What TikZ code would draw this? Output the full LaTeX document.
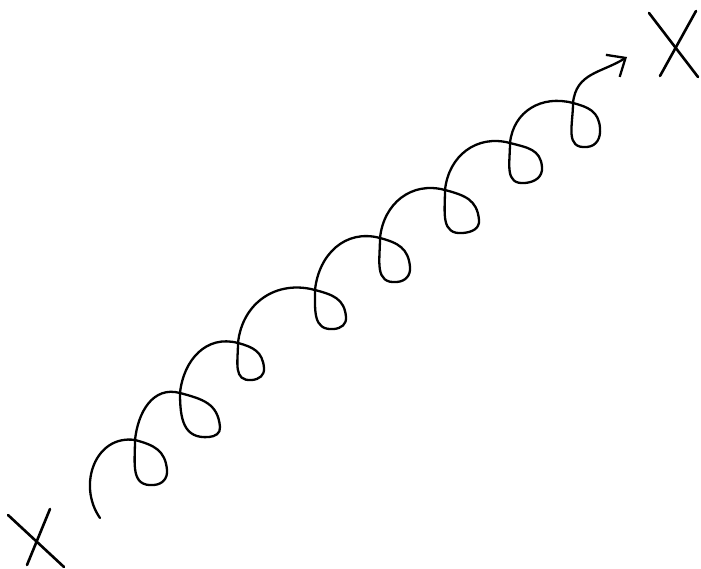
\documentclass[tikz,border=0pt]{standalone}
\usetikzlibrary{arrows.meta}
\begin{document}
\begin{tikzpicture}[x=1pt,y=1pt,
  coil/.style={line width=2.3pt, line cap=round, line join=round},
  cross/.style={line width=2.6pt, line cap=round},
  arc/.style={out=84,in=165,looseness=1.1},
  loopin/.style={out=-15,in=95,looseness=1.15},
  loopbot/.style={out=-85,in=5,looseness=1.1},
  loopup/.style={out=185,in=-90,looseness=1.25}]
\useasboundingbox (0,0) rectangle (701,569);
% crossings
\coordinate (c1) at (135,129);
\coordinate (c2) at (180,176);
\coordinate (c3) at (238,226);
\coordinate (c4) at (315,279);
\coordinate (c5) at (380,331);
\coordinate (c6) at (445,379);
\coordinate (c7) at (510,426);
\coordinate (c8) at (573,466);
% loop right and bottom points
\coordinate (r1) at (167,99);  \coordinate (b1) at (154,84);
\coordinate (r2) at (220,142); \coordinate (b2) at (209,132);
\coordinate (r3) at (264,201); \coordinate (b3) at (252,189);
\coordinate (r4) at (346,252); \coordinate (b4) at (334,240);
\coordinate (r5) at (410,302); \coordinate (b5) at (397,287);
\coordinate (r6) at (479,349); \coordinate (b6) at (463,336);
\coordinate (r7) at (542,402); \coordinate (b7) at (525,386);
\coordinate (r8) at (600,441); \coordinate (b8) at (587,422);
\coordinate (s) at (100,51);
\coordinate (t) at (627,512);
\draw[coil, -{Straight Barb[length=15pt,width=26pt,line width=2.3pt]}]
  (s) to[out=125,in=172,looseness=1.2] (c1)
  to[loopin] (r1) to[loopbot] (b1) to[loopup] (c1)
  to[arc] (c2)
  to[loopin] (r2) to[loopbot] (b2) to[loopup] (c2)
  to[arc] (c3)
  to[loopin] (r3) to[loopbot] (b3) to[loopup] (c3)
  to[arc] (c4)
  to[loopin] (r4) to[loopbot] (b4) to[loopup] (c4)
  to[arc] (c5)
  to[loopin] (r5) to[loopbot] (b5) to[loopup] (c5)
  to[arc] (c6)
  to[loopin] (r6) to[loopbot] (b6) to[loopup] (c6)
  to[arc] (c7)
  to[loopin] (r7) to[loopbot] (b7) to[loopup] (c7)
  to[arc] (c8)
  to[loopin] (r8) to[loopbot] (b8) to[loopup] (c8)
  to[out=84,in=212,looseness=1.1] (t);
% X marks
\coordinate (xa1) at (8,54);   \coordinate (xa2) at (64,2);
\coordinate (xa3) at (50,60);  \coordinate (xa4) at (27,4);
\coordinate (xb1) at (649,556); \coordinate (xb2) at (698,492);
\coordinate (xb3) at (696,558); \coordinate (xb4) at (660,493);
\draw[cross] (xa1) -- (xa2);
\draw[cross] (xa3) -- (xa4);
\draw[cross] (xb1) -- (xb2);
\draw[cross] (xb3) -- (xb4);
\end{tikzpicture}
\end{document}
